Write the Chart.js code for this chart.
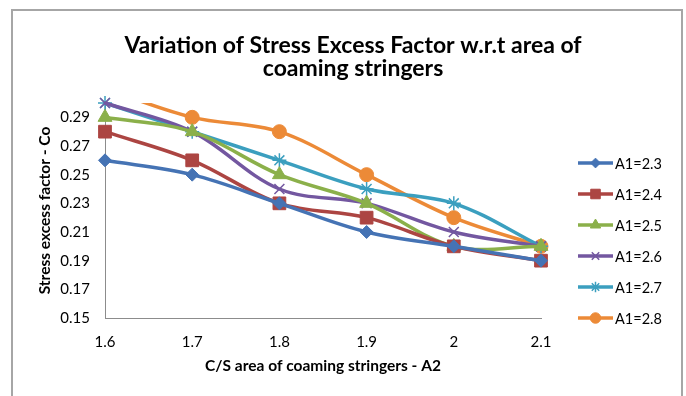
<!DOCTYPE html>
<html>
<head>
<meta charset="utf-8">
<script src="https://cdn.jsdelivr.net/npm/chart.js@4.4.0/dist/chart.umd.min.js"></script>
<style>
  html, body { margin: 0; padding: 0; background: #fff; }
  #wrap { position: relative; width: 686px; height: 396px; overflow: hidden; }
  #frame { position: absolute; left: 11px; top: 9px; width: 672px; height: 420px; border: 2px solid #a6a6a6; box-sizing: border-box; }
  #chart { position: absolute; left: 0; top: 0; }
</style>
</head>
<body>
<div id="wrap">
  <div id="frame"></div>
  <canvas id="chart" width="686" height="396"></canvas>
</div>
<script>
// data
const categories = ['1.6', '1.7', '1.8', '1.9', '2', '2.1'];
const seriesNames = ['A1=2.3', 'A1=2.4', 'A1=2.5', 'A1=2.6', 'A1=2.7', 'A1=2.8'];
const a23 = [0.26, 0.25, 0.23, 0.21, 0.20, 0.19];
const a24 = [0.28, 0.26, 0.23, 0.22, 0.20, 0.19];
const a25 = [0.29, 0.28, 0.25, 0.23, 0.20, 0.20];
const a26 = [0.30, 0.28, 0.24, 0.23, 0.21, 0.20];
const a27 = [0.30, 0.28, 0.26, 0.24, 0.23, 0.20];
const a28 = [0.31, 0.29, 0.28, 0.25, 0.22, 0.20];
const yTicks = [0.15, 0.17, 0.19, 0.21, 0.23, 0.25, 0.27, 0.29];

const titleLines = ['Variation of Stress Excess Factor w.r.t area of', 'coaming stringers'];
const FONT = 'Lato, "Open Sans", sans-serif';

const colors = ['#4573b4', '#ac4542', '#8bb04a', '#7357a0', '#3b9fbf', '#ec8a37'];
const markers = ['rectRot', 'rect', 'triangle', 'crossRot', 'star', 'circle'];
const radii = [6.5, 9, 8, 7, 7, 7];
const allSeries = [a23, a24, a25, a26, a27, a28];

const datasets = allSeries.map((vals, i) => ({
  label: seriesNames[i],
  data: vals,
  borderColor: colors[i],
  backgroundColor: colors[i],
  borderWidth: 3.5,
  tension: 0.35,
  pointStyle: markers[i],
  pointRadius: radii[i],
  pointBorderWidth: (markers[i] === 'crossRot' || markers[i] === 'star') ? 1.5 : 1,
  pointBorderColor: colors[i],
  pointBackgroundColor: colors[i],
  clip: i === 5 ? {left: 10, right: 10, top: 0, bottom: 10} : 10
}));

// title + legend drawn by hand so they sit where Excel put them
const extras = {
  id: 'extras',
  afterDraw(chart) {
    const ctx = chart.ctx;
    ctx.save();
    ctx.fillStyle = '#000';
    ctx.textAlign = 'center';
    ctx.textBaseline = 'middle';
    ctx.font = 'bold 23px ' + FONT;
    ctx.fillText(titleLines[0], 353, 46);
    ctx.fillText(titleLines[1], 353, 69);

    chart.data.datasets.forEach((ds, i) => {
      const y = 163 + i * 31;
      ctx.strokeStyle = ds.borderColor;
      ctx.fillStyle = ds.borderColor;
      ctx.lineWidth = 3.5;
      ctx.beginPath();
      ctx.moveTo(578, y);
      ctx.lineTo(613, y);
      ctx.stroke();
      ctx.lineWidth = ds.pointBorderWidth;
      Chart.helpers.drawPoint(ctx, {
        pointStyle: ds.pointStyle,
        radius: ds.pointRadius * 0.75,
        rotation: 0,
        borderWidth: ds.pointBorderWidth
      }, 595.5, y);
      ctx.fillStyle = '#000';
      ctx.textAlign = 'left';
      ctx.font = '14.5px ' + FONT;
      ctx.fillText(ds.label, 615, y + 1);
    });
    ctx.restore();
  }
};

new Chart(document.getElementById('chart'), {
  type: 'line',
  data: { labels: categories, datasets: datasets },
  options: {
    responsive: false,
    animation: false,
    layout: { padding: { left: 28, top: 103, right: 145, bottom: 18 } },
    plugins: { legend: { display: false }, title: { display: false }, tooltip: { enabled: false } },
    scales: {
      x: {
        type: 'category',
        offset: false,
        grid: { display: false, drawTicks: false },
        border: { display: true, color: '#8c8c8c', width: 1 },
        ticks: { color: '#000', font: { family: FONT, size: 15 }, padding: 15, maxRotation: 0 },
        title: { display: true, text: 'C/S area of coaming stringers - A2', color: '#000',
                 font: { family: FONT, size: 15.5, weight: 'bold' }, padding: { top: 0, bottom: 3 } },
        afterFit(s) { s.height = 60; }
      },
      y: {
        min: 0.15,
        max: 0.30,
        grid: { display: false, drawTicks: false },
        border: { display: true, color: '#8c8c8c', width: 1 },
        afterBuildTicks(s) { s.ticks = yTicks.map(v => ({ value: v })); },
        ticks: { color: '#000', font: { family: FONT, size: 15 }, padding: 15,
                 callback: v => v.toFixed(2) },
        title: { display: true, text: 'Stress excess factor - Co', color: '#000',
                 font: { family: FONT, size: 15.5, weight: 'bold' }, padding: { top: 8, bottom: 0 } },
        afterFit(s) { s.width = 77; }
      }
    }
  },
  plugins: [extras]
});
</script>
</body>
</html>
